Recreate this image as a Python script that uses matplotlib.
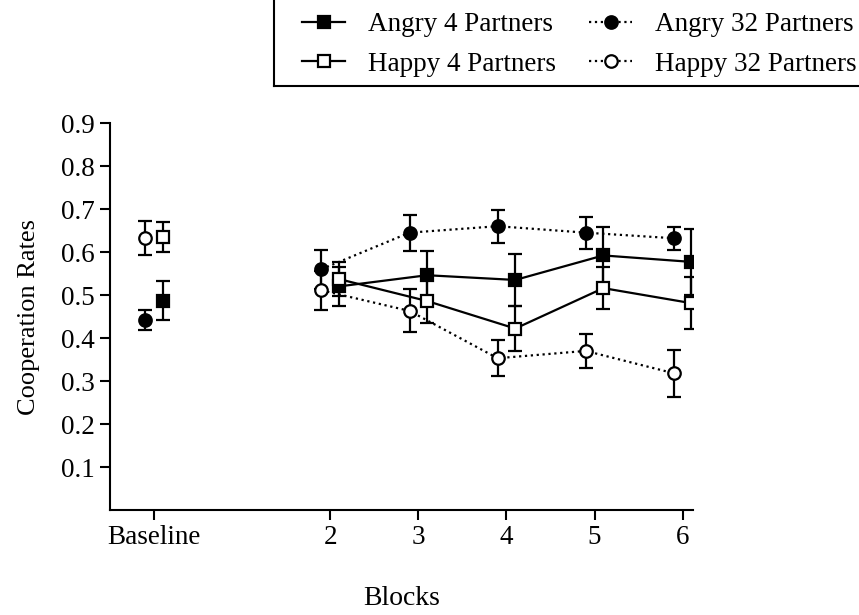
import matplotlib
matplotlib.use("Agg")
import matplotlib.pyplot as plt
from matplotlib.lines import Line2D

plt.rcParams['font.family'] = ['Liberation Serif', 'DejaVu Serif']

# block positions (Baseline drawn at 0)
blocks = [0, 2, 3, 4, 5, 6]
tick_labels = ['Baseline', '2', '3', '4', '5', '6']

angry4 = [0.487, 0.520, 0.546, 0.535, 0.592, 0.577]
angry4_err = [0.045, 0.045, 0.057, 0.060, 0.066, 0.076]
happy4 = [0.635, 0.537, 0.486, 0.422, 0.516, 0.481]
happy4_err = [0.035, 0.040, 0.050, 0.052, 0.048, 0.060]
angry32 = [0.442, 0.560, 0.645, 0.660, 0.645, 0.632]
angry32_err = [0.024, 0.045, 0.042, 0.038, 0.037, 0.027]
happy32 = [0.632, 0.511, 0.463, 0.353, 0.370, 0.318]
happy32_err = [0.040, 0.045, 0.050, 0.042, 0.040, 0.055]

shift = 0.1
x4 = [b + shift for b in blocks]
x32 = [b - shift for b in blocks]

fig = plt.figure(figsize=(8.59, 6.15), dpi=100)
ax = fig.add_axes([0.128, 0.1707, 0.679, 0.6293])

err_kw = dict(ecolor='black', elinewidth=1.6, capsize=5, capthick=1.6)
mk = dict(markersize=9, markeredgewidth=1.6, markeredgecolor='black')

def draw(xs, ys, errs, marker, face, ls, label):
    # error bars and markers for every point, line only across blocks 2-6
    ax.errorbar(xs, ys, yerr=errs, fmt='none', zorder=2, **err_kw)
    ax.plot(xs[1:], ys[1:], color='black', lw=1.6, ls=ls, zorder=3)
    ax.plot(xs, ys, ls='none', marker=marker, markerfacecolor=face, zorder=4, **mk)
    return ax.plot([], [], color='black', lw=1.6, ls=ls, marker=marker,
                   markerfacecolor=face, label=label, **mk)[0]

h1 = draw(x4, angry4, angry4_err, 's', 'black', '-', 'Angry 4 Partners')
h3 = draw(x32, angry32, angry32_err, 'o', 'black', ':', 'Angry 32 Partners')
h2 = draw(x4, happy4, happy4_err, 's', 'white', '-', 'Happy 4 Partners')
h4 = draw(x32, happy32, happy32_err, 'o', 'white', ':', 'Happy 32 Partners')

ax.set_xlim(-0.5, 6.12)
ax.set_ylim(0, 0.9)
ax.set_xticks(blocks)
ax.set_xticklabels(tick_labels)
ax.set_yticks([0.1, 0.2, 0.3, 0.4, 0.5, 0.6, 0.7, 0.8, 0.9])
ax.set_yticklabels(['0.1', '0.2', '0.3', '0.4', '0.5', '0.6', '0.7', '0.8', '0.9'])
ax.tick_params(labelsize=19.5, width=1.5, length=7, direction='out', pad=4)
for side in ['top', 'right']:
    ax.spines[side].set_visible(False)
for side in ['left', 'bottom']:
    ax.spines[side].set_linewidth(1.5)

ax.set_xlabel('Blocks', fontsize=20, labelpad=26)
ax.set_ylabel('Cooperation Rates', fontsize=19, labelpad=15)

leg = fig.legend(handles=[h1, h2, h3, h4], ncol=2, loc='upper left',
                 bbox_to_anchor=(302 / 859, 1 - 12 / 615),
                 fontsize=19.5, frameon=False,
                 handlelength=1.6, handletextpad=0.85, columnspacing=1.2,
                 labelspacing=0.55, borderpad=0, borderaxespad=0)

# legend border: only the left and bottom edges fall inside the figure
fig.add_artist(Line2D([274 / 859, 274 / 859], [1.0, 1 - 86 / 615],
                      transform=fig.transFigure, color='black', lw=1.5))
fig.add_artist(Line2D([274 / 859, 1.0], [1 - 86 / 615, 1 - 86 / 615],
                      transform=fig.transFigure, color='black', lw=1.5))

fig.savefig('out.png', dpi=100)
